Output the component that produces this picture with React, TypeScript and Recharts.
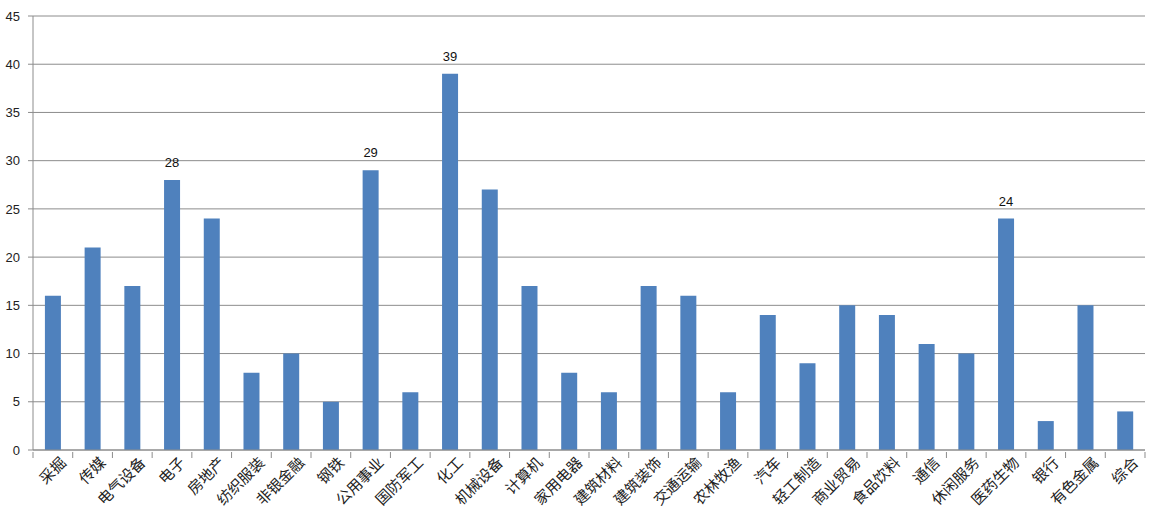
import React from 'react';
import { BarChart, Bar, XAxis, YAxis, CartesianGrid, LabelList } from 'recharts';

const industries = [
    '采掘', '传媒', '电气设备', '电子', '房地产', '纺织服装', '非银金融', '钢铁',
    '公用事业', '国防军工', '化工', '机械设备', '计算机', '家用电器', '建筑材料',
    '建筑装饰', '交通运输', '农林牧渔', '汽车', '轻工制造', '商业贸易', '食品饮料',
    '通信', '休闲服务', '医药生物', '银行', '有色金属', '综合',
];

const counts = [16, 21, 17, 28, 24, 8, 10, 5, 29, 6, 39, 27, 17, 8, 6, 17, 16, 6, 14, 9, 15, 14, 11, 10, 24, 3, 15, 4];

const labeledIndustries = ['电子', '公用事业', '化工', '医药生物'];

const yTicks = [0, 5, 10, 15, 20, 25, 30, 35, 40, 45];

const data = industries.map((name, i) => ({ name, count: counts[i] }));

const BAND = (1145 - 33) / industries.length;

const IndustryTick = (props: any) => {
    const { x, y, payload, index } = props;
    return (
        <g transform={`translate(${x},${y})`}>
            <line x1={-BAND / 2} y1={-6} x2={-BAND / 2} y2={0} stroke="#8c8c8c" />
            {index === industries.length - 1 && (
                <line x1={BAND / 2} y1={-6} x2={BAND / 2} y2={0} stroke="#8c8c8c" />
            )}
            <text
                x={6}
                y={14}
                transform="rotate(-45)"
                textAnchor="end"
                fill="#222"
                fontSize={15}
                fontFamily='"Noto Sans CJK SC", sans-serif'
            >
                {payload.value}
            </text>
        </g>
    );
};

const ValueLabel = (props: any) => {
    const { x, y, width, value, index } = props;
    if (!labeledIndustries.includes(industries[index])) return null;
    return (
        <text x={x + width / 2} y={y - 13} textAnchor="middle" fill="#111" fontSize={13}>
            {value}
        </text>
    );
};

export default function App() {
    return (
        <div style={{ position: 'absolute', left: 0, top: 0, background: '#fff', fontFamily: '"Liberation Sans", Arial, sans-serif' }}>
            <BarChart
                width={1152}
                height={524}
                data={data}
                margin={{ top: 16, right: 7, left: 0, bottom: 0 }}
                barCategoryGap="30%"
            >
                <CartesianGrid horizontal vertical={false} stroke="#8c8c8c" />
                <XAxis
                    dataKey="name"
                    interval={0}
                    height={74}
                    tickLine={false}
                    axisLine={{ stroke: '#8c8c8c' }}
                    tick={<IndustryTick />}
                />
                <YAxis
                    width={33}
                    domain={[0, 45]}
                    ticks={yTicks}
                    interval={0}
                    tickSize={5}
                    tickMargin={8}
                    axisLine={{ stroke: '#8c8c8c' }}
                    tickLine={{ stroke: '#8c8c8c' }}
                    tick={{ fill: '#222', fontSize: 13 }}
                />
                <Bar dataKey="count" fill="#4f81bd" isAnimationActive={false}>
                    <LabelList dataKey="count" content={<ValueLabel />} />
                </Bar>
            </BarChart>
        </div>
    );
}
